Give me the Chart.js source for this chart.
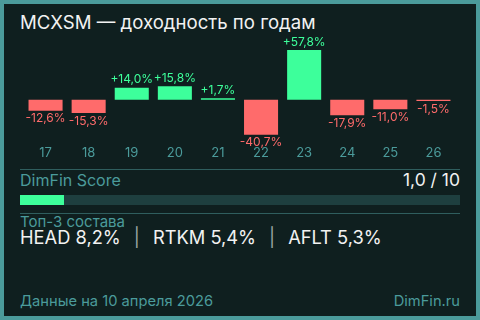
<!DOCTYPE html>
<html lang="ru">
<head>
<meta charset="utf-8">
<script src="https://cdn.jsdelivr.net/npm/chart.js@4.4.1/dist/chart.umd.min.js"></script>
<style>
  body { margin: 0; width: 480px; height: 320px; background: #4b9b9b; font-family: Inter, "Noto Sans", sans-serif; overflow: hidden; position: relative; }
  #card { position: absolute; left: 4px; top: 4px; width: 472px; height: 312px; background: #0f1f1f; }
  .abs { position: absolute; white-space: nowrap; line-height: 1; }
  #title { left: 20px; top: 13px; font-size: 18.6px; color: #f2f2f2; }
  #chartBox { position: absolute; left: 24px; top: 30px; width: 431px; height: 135px; }
  .sep { position: absolute; left: 20px; width: 440px; height: 1px; background: #2f5e5e; }
  #scoreLbl { left: 20px; top: 172px; font-size: 16px; color: #4b9b9b; }
  #scoreVal { right: 20px; top: 171px; font-size: 17.5px; color: #f2f2f2; }
  #track { position: absolute; left: 20px; top: 195px; width: 440px; height: 10px; background: #1e3f3f; }
  #fill { height: 100%; background: #3dff9b; }
  #topLbl { left: 20px; top: 214px; font-size: 15px; color: #4b9b9b; }
  #topList { left: 20px; top: 228px; font-size: 18.3px; color: #f2f2f2; }
  #topList .pipe { color: #9aa5a5; margin: 0 13px; }
  #date { left: 20px; top: 294px; font-size: 14.7px; color: #4b9b9b; }
  #site { right: 20px; top: 294px; font-size: 14.7px; color: #4b9b9b; }
</style>
</head>
<body>
<div id="card"></div>
<div id="title" class="abs">MCXSM — доходность по годам</div>
<div id="chartBox"><canvas id="myChart"></canvas></div>
<div class="sep" style="top:169px"></div>
<div id="scoreLbl" class="abs">DimFin Score</div>
<div id="scoreVal" class="abs"></div>
<div id="track"><div id="fill"></div></div>
<div class="sep" style="top:213px"></div>
<div id="topLbl" class="abs">Топ-3 состава</div>
<div id="topList" class="abs"></div>
<div id="date" class="abs">Данные на 10 апреля 2026</div>
<div id="site" class="abs">DimFin.ru</div>
<script>
// Годы и доходность индекса
const years = ["17", "18", "19", "20", "21", "22", "23", "24", "25", "26"];
const returns = [-12.6, -15.3, 14.0, 15.8, 1.7, -40.7, 57.8, -17.9, -11.0, -1.5];

// DimFin Score
const score = 1.0;
const scoreMax = 10;

// Топ-3 состава
const topTickers = ["HEAD", "RTKM", "AFLT"];
const topWeights = [8.2, 5.4, 5.3];

const green = "#3dff9b";
const red = "#ff6b6b";

function fmt(v) {
    return (v > 0 ? "+" : "") + v.toFixed(1).replace(".", ",") + "%";
}

// Подписи над и под столбцами
const valueLabels = {
    id: "valueLabels",
    afterDatasetsDraw(chart) {
        const ctx = chart.ctx;
        const meta = chart.getDatasetMeta(0);
        ctx.save();
        ctx.font = "12px Inter, 'Noto Sans', sans-serif";
        ctx.textAlign = "center";
        meta.data.forEach((bar, i) => {
            const v = returns[i];
            ctx.fillStyle = v >= 0 ? green : red;
            if (v >= 0) {
                ctx.textBaseline = "bottom";
                ctx.fillText(fmt(v), bar.x, bar.y - 2);
            } else {
                ctx.textBaseline = "top";
                ctx.fillText(fmt(v), bar.x, bar.y + 2);
            }
        });
        ctx.restore();
    }
};

new Chart(document.getElementById("myChart"), {
    type: "bar",
    data: {
        labels: years,
        datasets: [{
            data: returns,
            backgroundColor: returns.map(v => v >= 0 ? green : red),
            barPercentage: 0.79,
            categoryPercentage: 1
        }]
    },
    options: {
        responsive: true,
        maintainAspectRatio: false,
        animation: false,
        layout: { padding: { top: 10, bottom: 0, left: 0, right: 0 } },
        plugins: { legend: { display: false }, tooltip: { enabled: false } },
        scales: {
            x: {
                grid: { display: false, drawTicks: false },
                border: { display: false },
                ticks: { color: "#4b9b9b", font: { size: 13, family: "Inter" }, padding: 4 }
            },
            y: { display: false, min: -48.3, max: 69.5 }
        }
    },
    plugins: [valueLabels]
});

document.getElementById("scoreVal").textContent = score.toFixed(1).replace(".", ",") + " / " + scoreMax;
document.getElementById("fill").style.width = (score / scoreMax * 100) + "%";
document.getElementById("topList").innerHTML = topTickers
    .map((t, i) => t + " " + topWeights[i].toFixed(1).replace(".", ",") + "%")
    .join('<span class="pipe">|</span>');
</script>
</body>
</html>
